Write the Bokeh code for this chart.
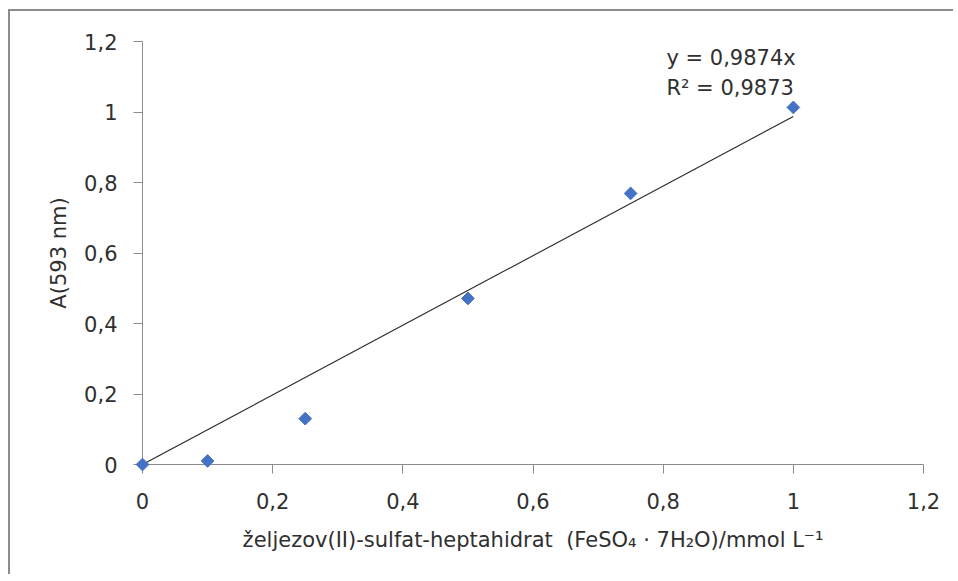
import math
from bokeh.plotting import figure
from bokeh.models import Range1d, FixedTicker, Label
from bokeh.embed import file_html
from bokeh.resources import INLINE

# data
conc = [0.0, 0.1, 0.25, 0.5, 0.75, 1.0]
absorb = [0.0, 0.01, 0.13, 0.471, 0.769, 1.013]
trend_slope = 0.9874
r_squared = 0.9873
trend_x = [0.0, 1.0]
tick_values = [0, 0.2, 0.4, 0.6, 0.8, 1.0, 1.2]
tick_labels = ["0", "0,2", "0,4", "0,6", "0,8", "1", "1,2"]

FONT = "DejaVu Sans"
TXT = "#303030"
AX = "#8c8c8c"

p = figure(width=945, height=565,
           x_range=Range1d(0, 1.2), y_range=Range1d(0, 1.2),
           output_backend="svg", toolbar_location=None,
           min_border_left=132, min_border_right=32,
           min_border_top=30, min_border_bottom=112)
p.margin = (9, 0, 0, 8)
p.styles = {"border-top": "2px solid #8c8c8c", "border-left": "2px solid #8c8c8c"}
p.outline_line_color = None
p.grid.visible = False
p.background_fill_color = "white"
p.border_fill_color = "white"

overrides = {v: l for v, l in zip(tick_values, tick_labels)}
for ax in (p.xaxis[0], p.yaxis[0]):
    ax.ticker = FixedTicker(ticks=tick_values)
    ax.major_label_overrides = overrides
    ax.axis_line_color = AX
    ax.major_tick_line_color = AX
    ax.minor_tick_line_color = None
    ax.major_tick_in = 0
    ax.major_tick_out = 9
    ax.major_label_text_font = FONT
    ax.major_label_text_font_size = "21px"
    ax.major_label_text_color = TXT
    ax.axis_label_text_font = FONT
    ax.axis_label_text_font_size = "21px"
    ax.axis_label_text_font_style = "normal"
    ax.axis_label_text_color = TXT

p.xaxis[0].major_label_standoff = 19
p.yaxis[0].major_label_standoff = 16
p.xaxis[0].axis_label = "željezov(II)-sulfat-heptahidrat \u00a0(FeSO₄ · 7H₂O)/mmol L⁻¹"
p.yaxis[0].axis_label = "A(593 nm)"
p.xaxis[0].axis_label_standoff = 16
p.yaxis[0].axis_label_standoff = 10

trend_y = [trend_slope * x for x in trend_x]
p.line(trend_x, trend_y, line_color="#262626", line_width=1.1)
pts = p.scatter(conc, absorb, marker="square", angle=math.pi / 4, size=9,
                fill_color="#4472C4", line_color="#4472C4", line_width=1)
pts.level = "overlay"

lab1 = Label(x=0.805, y=1.152, text="y = " + f"{trend_slope}".replace(".", ",") + "x",
             text_font=FONT, text_font_size="21px", text_color=TXT,
             text_baseline="middle")
lab2 = Label(x=0.805, y=1.067, text="R² = " + f"{r_squared}".replace(".", ","),
             text_font=FONT, text_font_size="21px", text_color=TXT,
             text_baseline="middle")
p.add_layout(lab1)
p.add_layout(lab2)

open("out.html", "w").write(file_html(p, INLINE))
